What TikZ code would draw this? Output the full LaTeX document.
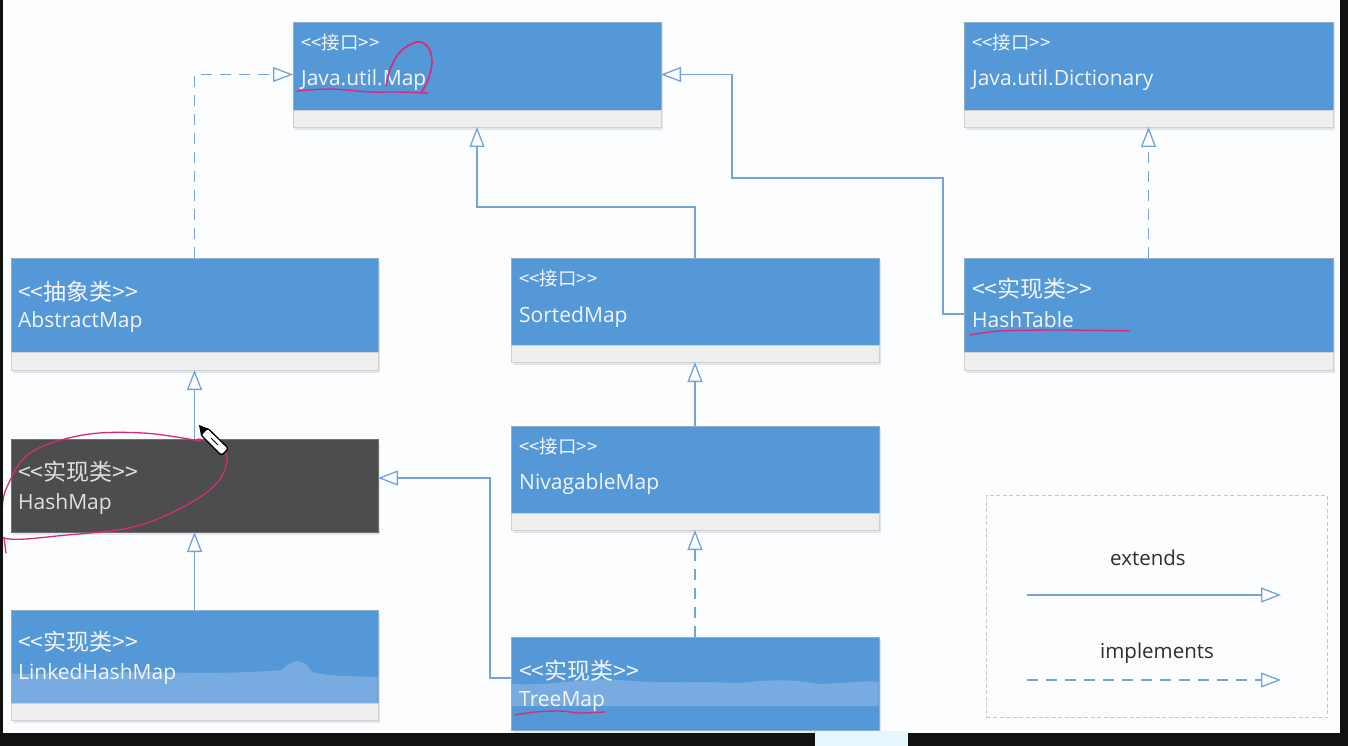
\documentclass[tikz,border=0pt]{standalone}
\usepackage{fontspec}
\setmainfont{Open Sans}
\newfontfamily\cjk{Noto Sans CJK SC}
\usetikzlibrary{arrows.meta,calc}
\definecolor{bgc}{HTML}{FCFDFE}
\definecolor{boxblue}{HTML}{5598D8}
\definecolor{boxedge}{HTML}{93ADC8}
\definecolor{barc}{HTML}{EFEFEF}
\definecolor{baredge}{HTML}{D0D0D0}
\definecolor{darkbox}{HTML}{4D4D4D}
\definecolor{linec}{HTML}{74A3DA}
\definecolor{pinkc}{HTML}{D62C7C}
\definecolor{wavec}{HTML}{78ACE0}
\definecolor{txtc}{HTML}{F3F6F9}
\definecolor{shadowc}{HTML}{E3E7ED}
\definecolor{framec}{HTML}{111111}
\definecolor{legtxt}{HTML}{2E2E2E}
\definecolor{legedge}{HTML}{C8C8C8}
\newcommand\stLL{<\kern0pt<}
\newcommand\stRR{>\kern0pt>}
\tikzset{
  umlbox/.style={draw=boxedge, fill=boxblue, line width=0.6pt, inner sep=0pt, outer sep=0pt, anchor=north west},
  darkumlbox/.style={umlbox, fill=darkbox, draw=darkbox!80!white},
  stereoI/.style={text=txtc, inner sep=0pt, anchor=base west, font=\cjk\fontsize{18.5}{21}\selectfont},
  stereoC/.style={text=txtc, inner sep=0pt, anchor=base west, font=\cjk\fontsize{23}{26}\selectfont},
  cname/.style={text=txtc, inner sep=0pt, anchor=base west, font=\fontsize{21}{25}\selectfont},
  ext/.style={draw=linec, line width=1.3pt, line join=miter, -{Triangle[length=20pt,width=15pt,fill=bgc]}},
  impl/.style={ext, dash pattern=on 11pt off 8pt},
  legtext/.style={text=legtxt, inner sep=0pt, anchor=base west, font=\fontsize{20.5}{24}\selectfont},
  ink/.style={draw=pinkc, line width=1.7pt, line cap=round, line join=round},
  barstyle/.style={draw=baredge, fill=barc, line width=0.6pt},
}
\begin{document}
\begin{tikzpicture}[x=1pt,y=-1pt]
\useasboundingbox (0,0) rectangle (1348,746);
\fill[bgc] (0,0) rectangle (1348,746);
% shadows
\foreach \a/\b/\c/\d in {293/22/661/127, 964/22/1333/127, 11/258/378/370, 511/258/879/362, 964/258/1333/370, 11/439/378/532, 511/426/879/530, 11/610/378/720, 511/637/879/730}
  \fill[shadowc] (\a+2,\b+3) rectangle (\c+2,\d+3);
% boxes
\node[umlbox, minimum width=368pt, minimum height=105pt] (map) at (293,22) {};
\node[umlbox, minimum width=369pt, minimum height=105pt] (dict) at (964,22) {};
\node[umlbox, minimum width=367pt, minimum height=112pt] (absmap) at (11,258) {};
\node[umlbox, minimum width=368pt, minimum height=104pt] (sorted) at (511,258) {};
\node[umlbox, minimum width=369pt, minimum height=112pt] (htable) at (964,258) {};
\node[darkumlbox, minimum width=367pt, minimum height=93pt] (hashmap) at (11,439) {};
\node[umlbox, minimum width=368pt, minimum height=104pt] (nivag) at (511,426) {};
\node[umlbox, minimum width=367pt, minimum height=110pt] (linked) at (11,610) {};
\node[umlbox, minimum width=368pt, minimum height=93pt] (treemap) at (511,637) {};
% light video artefacts
\fill[wavec] (11.5,674) -- (150,672) .. controls (220,674) and (260,672) .. (282,670)
  .. controls (292,658) and (304,658) .. (312,672) .. controls (330,677) and (360,676) .. (377.5,677) -- (377.5,703) -- (11.5,703) -- cycle;
\fill[wavec] (511.5,684) .. controls (560,686) and (580,677) .. (620,680) .. controls (660,684) and (700,681) .. (740,683)
  .. controls (780,678) and (800,681) .. (820,684) .. controls (850,683) and (865,680) .. (878.5,682) -- (878.5,706) -- (511.5,706) -- cycle;
% grey bars
\draw[barstyle] (293,110) rectangle (661,127);
\draw[barstyle] (964,110) rectangle (1333,127);
\draw[barstyle] (11,352) rectangle (378,370);
\draw[barstyle] (511,345) rectangle (879,362);
\draw[barstyle] (964,352) rectangle (1333,370);
\draw[barstyle] (511,513) rectangle (879,530);
\draw[barstyle] (11,703) rectangle (378,720);
% texts
\node[stereoI] (mapS) at (301,50) {\stLL 接口\stRR};
\node[cname] (mapN) at (301,86) {Java.util.Map};
\node[stereoI] (dictS) at (972,50) {\stLL 接口\stRR};
\node[cname] (dictN) at (972,86) {Java.util.Dictionary};
\node[stereoC] (absS) at (18,300) {\stLL 抽象类\stRR};
\node[cname] (absN) at (18,327) {AbstractMap};
\node[stereoI] (sortS) at (519,285) {\stLL 接口\stRR};
\node[cname] (sortN) at (519,322) {SortedMap};
\node[stereoC] (htS) at (972,297) {\stLL 实现类\stRR};
\node[cname] (htN) at (972,327) {HashTable};
\node[stereoC, text=white!88!black] (hmS) at (18,480) {\stLL 实现类\stRR};
\node[cname, text=white!88!black] (hmN) at (18,509) {HashMap};
\node[stereoI] (nvS) at (519,453) {\stLL 接口\stRR};
\node[cname] (nvN) at (519,489) {NivagableMap};
\node[stereoC] (lkS) at (18,650) {\stLL 实现类\stRR};
\node[cname] (lkN) at (18,679) {LinkedHashMap};
\node[stereoC] (tmS) at (519,679) {\stLL 实现类\stRR};
\node[cname] (tmN) at (519,706) {TreeMap};
% connectors
\draw[impl] (absmap.north) |- (map.west);
\draw[ext] (sorted.north) -- ++(0,-51) -| (map.south);
\draw[ext] (htable.west) -- ++(-21,0) |- (732,178) |- (map.east);
\draw[impl] (htable.north) -- (dict.south);
\draw[ext] (hashmap.north) -- (absmap.south);
\draw[ext] (linked.north) -- (hashmap.south);
\draw[ext] (nivag.north) -- (sorted.south);
\draw[impl] (treemap.north) -- (nivag.south);
\draw[ext] ([yshift=5.5pt]treemap.west) -- ++(-21,0) |- ([yshift=7.5pt]hashmap.east);
% legend
\node[draw=legedge, dash pattern=on 4pt off 2.5pt, line width=1pt, minimum width=341pt, minimum height=222pt, inner sep=0pt, anchor=north west] (legend) at (986,495) {};
\node[legtext] (legE) at (1110,565) {extends};
\node[legtext] (legI) at (1100,658) {implements};
\coordinate (e1) at (1027,595);
\coordinate (e2) at (1281,595);
\coordinate (i1) at (1027,680);
\coordinate (i2) at (1281,680);
\draw[ext] (e1) -- (e2);
\draw[impl] (i1) -- (i2);
% pink annotations
\draw[ink] plot[smooth, tension=0.6] coordinates {(386,86)(391,67)(401,51)(417,42)(428,47)(432,62)(428,80)(421,93)};
\draw[ink, line width=1.4pt] plot[smooth, tension=0.5] coordinates {(297,91)(330,89)(370,92)(395,92)(428,93)};
\draw[ink, line width=1.4pt] plot[smooth, tension=0.5] coordinates {(970,335)(1000,331)(1060,330)(1130,331)};
\draw[ink, line width=1.4pt] plot[smooth, tension=0.5] coordinates {(515,715)(535,712)(560,711)(580,713)(605,712)};
\draw[ink, line width=1.3pt] plot[smooth, tension=0.6] coordinates {(200,441)(143,433)(83,435)(30,453)(7,487)(2,513)(4,538)(67,535)(133,527)(183,507)(217,483)(227,457)(213,443)(198,439)};
\draw[ink, line width=1.3pt] (4,538) -- (6,553);
% cursor
\draw[black, fill=white, line width=1.3pt, rounded corners=2.5pt] (207.5,428) -- (228.5,448.5) -- (221.5,455.5) -- (200.5,434.5) -- cycle;
\fill[black] (199,425) -- (208,428.5) -- (201,435.5) -- cycle;
\draw[black, line width=0.8pt] (211,438) -- (218,445);
% frame of the screen
\fill[framec] (0,0) rectangle (3,746);
\fill[framec] (1340,0) rectangle (1348,746);
\fill[framec] (0,733) rectangle (1348,746);
\fill[cyan!10!white] (815,731) rectangle (908,746);
\end{tikzpicture}
\end{document}
